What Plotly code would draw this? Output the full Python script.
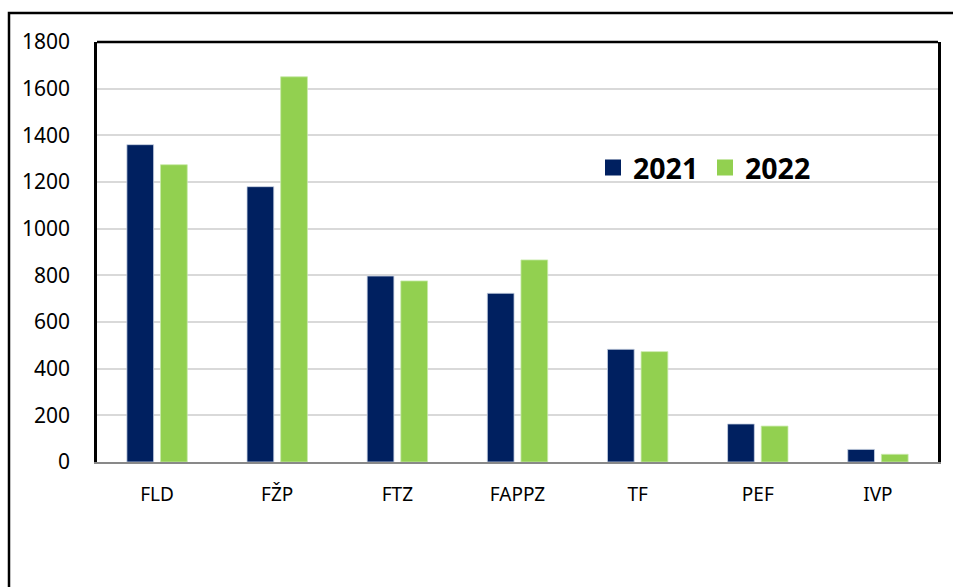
import plotly.graph_objects as go

categories = ["FLD", "FŽP", "FTZ", "FAPPZ", "TF", "PEF", "IVP"]
values_2021 = [1360, 1180, 797, 723, 483, 163, 54]
values_2022 = [1274, 1651, 776, 866, 473, 154, 33]
series_names = ["2021", "2022"]
y_ticks = [0, 200, 400, 600, 800, 1000, 1200, 1400, 1600, 1800]

NAVY = "#002060"
GREEN = "#92D050"

W, H = 953, 587
ML, MR, MT, MB = 97, 15, 42, 125
PW = W - ML - MR
PH = H - MT - MB

fig = go.Figure()
fig.add_trace(go.Bar(x=categories, y=values_2021, name=series_names[0],
                     marker=dict(color=NAVY, line=dict(color="#c9d3e3", width=0.8)),
                     showlegend=False))
fig.add_trace(go.Bar(x=categories, y=values_2022, name=series_names[1],
                     marker=dict(color=GREEN, line=dict(color="#c8eaa8", width=0.8)),
                     showlegend=False))
# legend entries
for nm, col in zip(series_names, [NAVY, GREEN]):
    fig.add_trace(go.Scatter(x=[None], y=[None], mode="markers", name=nm,
                             marker=dict(symbol="square", size=18, color=col)))

def px_x(px):
    return (px - ML) / PW

def px_y(py):
    return (H - MB - py) / PH

shapes = [
    # outer frame (extends beyond page to the right and bottom)
    dict(type="rect", xref="paper", yref="paper",
         x0=px_x(9), x1=px_x(1000), y0=px_y(640), y1=px_y(13),
         line=dict(color="black", width=2.5), fillcolor="rgba(0,0,0,0)", layer="above"),
    # top border of plot area
    dict(type="line", xref="paper", yref="paper", x0=0, x1=1, y0=1, y1=1,
         line=dict(color="black", width=2.5), layer="above"),
]

fig.update_layout(
    width=W, height=H,
    margin=dict(l=ML, r=MR, t=MT, b=MB, pad=0),
    paper_bgcolor="white", plot_bgcolor="white",
    barmode="group", bargap=0.44, bargroupgap=0.205,
    font=dict(family="Noto Sans", size=21, color="#000000"),
    legend=dict(orientation="h", x=px_x(593), y=px_y(168), xanchor="left", yanchor="middle",
                font=dict(family="Noto Sans", size=28.5, color="#000000", weight="bold"),
                bgcolor="rgba(0,0,0,0)", borderwidth=0, itemwidth=30,
                entrywidth=67, entrywidthmode="pixels"),
    shapes=shapes,
    xaxis=dict(showline=True, linecolor="#898989", linewidth=2, mirror=False,
               showgrid=False, ticks="", ticklabelstandoff=14,
               tickfont=dict(size=19), fixedrange=True),
    yaxis=dict(range=[0, 1800], tickvals=y_ticks, showline=True, linecolor="black",
               linewidth=2.5, mirror=True, showgrid=True, gridcolor="#d9d9d9", gridwidth=1.8,
               ticks="", ticklabelstandoff=20, zeroline=False,
               tickfont=dict(size=21), fixedrange=True),
)

fig.write_html("out.html", config={"displayModeBar": False},
               post_script="document.body.style.margin='0';document.body.style.overflow='hidden';")
